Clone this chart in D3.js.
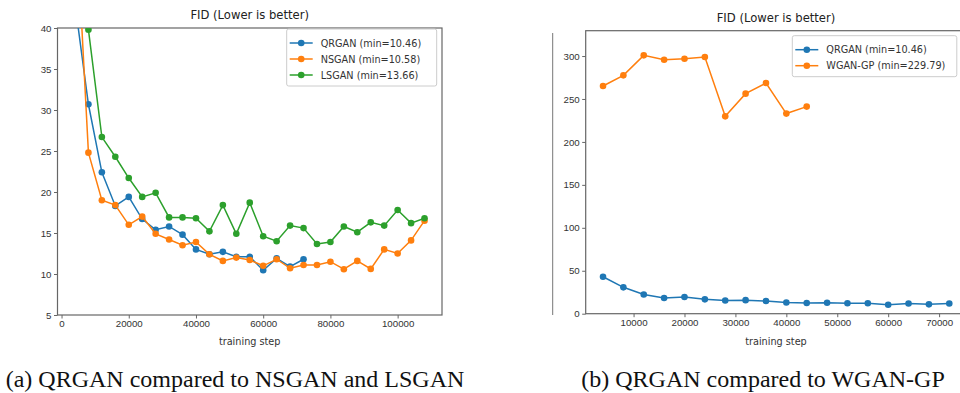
<!DOCTYPE html>
<html>
<head>
<meta charset="utf-8">
<script src="https://cdn.jsdelivr.net/npm/d3@7"></script>
<style>
  body { margin: 0; background: #fff; }
  svg { display: block; }
</style>
</head>
<body>
<div id="chart"></div>
<script>
// training steps (every 4000)
const stepsA = d3.range(1, 28).map(i => i * 4000);   // 4000 .. 108000
const stepsQ = d3.range(1, 19).map(i => i * 4000);   // 4000 .. 72000
const stepsW = d3.range(1, 12).map(i => i * 4000);   // 4000 .. 44000

const qrgan = [43.0, 30.7, 22.4, 18.3, 19.4, 16.7, 15.4, 15.8, 14.8, 13.0, 12.4, 12.7, 12.1, 12.1, 10.46, 11.9, 10.9, 11.8];
const nsgan = [56.0, 24.8, 19.0, 18.4, 16.0, 17.0, 14.9, 14.2, 13.5, 13.9, 12.4, 11.6, 12.0, 11.7, 11.0, 11.8, 10.7, 11.1, 11.1, 11.5, 10.58, 11.6, 10.62, 13.0, 12.5, 14.1, 16.5];
const lsgan = [65.0, 39.8, 26.7, 24.3, 21.7, 19.4, 19.9, 16.9, 16.9, 16.8, 15.2, 18.4, 14.9, 18.7, 14.6, 14.0, 15.9, 15.6, 13.66, 13.9, 15.8, 15.1, 16.3, 15.9, 17.8, 16.2, 16.8];
const wgangp = [265.1, 277.5, 300.8, 295.7, 296.9, 298.8, 229.79, 256.2, 268.6, 233.0, 241.1];

const ticksAx = [0, 20000, 40000, 60000, 80000, 100000];
const ticksAy = [5, 10, 15, 20, 25, 30, 35, 40];
const ticksBx = [10000, 20000, 30000, 40000, 50000, 60000, 70000];
const ticksBy = [0, 50, 100, 150, 200, 250, 300];

const blue = '#1f77b4', orange = '#ff7f0e', green = '#2ca02c';

const W = 960, H = 393;
const svg = d3.select('#chart').append('svg')
  .attr('width', W)
  .attr('height', H)
  .style('font-family', '"DejaVu Sans", sans-serif');

function panel(opts) {
  const x = d3.scaleLinear().domain(opts.xDomain).range(opts.xRange);
  const y = d3.scaleLinear().domain(opts.yDomain).range(opts.yRange);
  const [x0, x1] = opts.xRange, [y1, y0] = opts.yRange;

  const g = svg.append('g');
  g.append('clipPath').attr('id', opts.id)
    .append('rect').attr('x', x0).attr('y', y0).attr('width', x1 - x0).attr('height', y1 - y0);

  // axes
  const xAxis = d3.axisBottom(x).tickValues(opts.xTicks).tickFormat(d3.format('d')).tickSizeOuter(0).tickSize(3.5).tickPadding(2);
  const yAxis = d3.axisLeft(y).tickValues(opts.yTicks).tickFormat(d3.format('d')).tickSizeOuter(0).tickSize(3.5).tickPadding(2.5);
  const gx = g.append('g').attr('transform', `translate(0,${y1})`).call(xAxis);
  const gy = g.append('g').attr('transform', `translate(${x0},0)`).call(yAxis);
  [gx, gy].forEach(a => {
    a.select('.domain').remove();
    a.selectAll('line').attr('stroke', '#555').attr('stroke-width', 0.9);
    a.selectAll('text').attr('fill', '#333').style('font-size', '9.7px');
  });

  // frame
  g.append('rect')
    .attr('x', x0).attr('y', y0).attr('width', x1 - x0).attr('height', y1 - y0)
    .attr('fill', 'none').attr('stroke', '#666').attr('stroke-width', 1.2);

  // series
  const plot = g.append('g').attr('clip-path', `url(#${opts.id})`);
  opts.series.forEach(s => {
    const pts = s.steps.map((st, i) => [st, s.values[i]]);
    plot.append('path')
      .datum(pts)
      .attr('fill', 'none')
      .attr('stroke', s.color)
      .attr('stroke-width', 1.5)
      .attr('d', d3.line().x(d => x(d[0])).y(d => y(d[1])));
    plot.selectAll(null)
      .data(pts)
      .enter()
      .append('circle')
      .attr('cx', d => x(d[0]))
      .attr('cy', d => y(d[1]))
      .attr('r', 3.3)
      .attr('fill', s.color);
  });

  // title and x label
  g.append('text').attr('x', opts.titleX).attr('y', y0 - 9)
    .attr('text-anchor', 'middle').attr('fill', '#222').style('font-size', '11.6px')
    .text('FID (Lower is better)');
  g.append('text').attr('x', opts.titleX).attr('y', 345)
    .attr('text-anchor', 'middle').attr('fill', '#333').style('font-size', '9.7px')
    .text('training step');

  // legend
  const lg = g.append('g');
  lg.append('rect')
    .attr('x', opts.legend.x).attr('y', opts.legend.y)
    .attr('width', opts.legend.w).attr('height', 9 + opts.series.length * 16)
    .attr('rx', 2).attr('fill', '#fff').attr('fill-opacity', 0.8)
    .attr('stroke', '#ccc').attr('stroke-width', 1);
  opts.series.forEach((s, i) => {
    const ly = opts.legend.y + 14 + i * 16;
    const lx = opts.legend.x + 3;
    lg.append('line').attr('x1', lx).attr('x2', lx + 23).attr('y1', ly).attr('y2', ly)
      .attr('stroke', s.color).attr('stroke-width', 1.5);
    lg.append('circle').attr('cx', lx + 11.5).attr('cy', ly).attr('r', 3.3).attr('fill', s.color);
    lg.append('text').attr('x', lx + 31).attr('y', ly + 3.5)
      .attr('fill', '#333').style('font-size', '9.7px')
      .text(s.label);
  });
}

panel({
  id: 'clipA',
  xDomain: [-1200, 113200], xRange: [57.5, 442],
  yDomain: [5, 40], yRange: [315, 28],
  xTicks: ticksAx, yTicks: ticksAy,
  titleX: 249.7,
  legend: { x: 286.7, y: 29, w: 150 },
  series: [
    { label: 'QRGAN (min=10.46)', color: blue, steps: stepsQ, values: qrgan },
    { label: 'NSGAN (min=10.58)', color: orange, steps: stepsA, values: nsgan },
    { label: 'LSGAN (min=13.66)', color: green, steps: stepsA, values: lsgan }
  ]
});

panel({
  id: 'clipB',
  xDomain: [600, 75400], xRange: [585.7, 966.6],
  yDomain: [0, 329.5], yRange: [313.7, 30.7],
  xTicks: ticksBx, yTicks: ticksBy,
  titleX: 776,
  legend: { x: 792.3, y: 35.7, w: 164.5 },
  series: [
    { label: 'QRGAN (min=10.46)', color: blue, steps: stepsQ, values: qrgan },
    { label: 'WGAN-GP (min=229.79)', color: orange, steps: stepsW, values: wgangp }
  ]
});

// thin edge line left of panel b
svg.append('line')
  .attr('x1', 552.7).attr('x2', 552.7).attr('y1', 33).attr('y2', 315)
  .attr('stroke', '#777').attr('stroke-width', 1);

// captions
const captions = [
  { text: '(a) QRGAN compared to NSGAN and LSGAN', x: 235 },
  { text: '(b) QRGAN compared to WGAN-GP', x: 763 }
];
svg.selectAll('.caption')
  .data(captions)
  .enter()
  .append('text')
  .attr('class', 'caption')
  .attr('x', d => d.x)
  .attr('y', 387)
  .attr('text-anchor', 'middle')
  .attr('fill', '#111')
  .style('font-family', '"Liberation Serif", "Times New Roman", serif')
  .style('font-size', '24px')
  .text(d => d.text);
</script>
</body>
</html>
